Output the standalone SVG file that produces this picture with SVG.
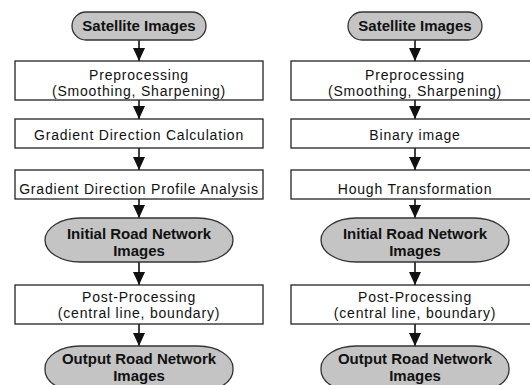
<svg xmlns="http://www.w3.org/2000/svg" width="530" height="385" viewBox="0 0 530 385">
<style>
.box{fill:#fff;stroke:#222;stroke-width:1.3}
.term{fill:#c4c4c4;stroke:#333;stroke-width:1.3}
.t{font-family:"Liberation Sans",Arial,sans-serif;font-size:14px;letter-spacing:0.8px;text-anchor:middle;fill:#111}
.b{font-family:"Liberation Sans",Arial,sans-serif;font-size:15px;font-weight:bold;text-anchor:middle;fill:#111}
.c{stroke:#111;stroke-width:1.6;fill:none;marker-end:url(#ah)}
</style>
<defs>
<marker id="ah" markerUnits="userSpaceOnUse" markerWidth="13" markerHeight="12" viewBox="0 0 13 12" refX="13" refY="6" orient="auto">
<path d="M0,0 L13,6 L0,12 Z" fill="#111"/>
</marker>
</defs>
<rect width="530" height="385" fill="#fff"/>
<g id="connectors">
<line class="c" x1="139" y1="40" x2="139" y2="61"/>
<line class="c" x1="139" y1="100" x2="139" y2="119"/>
<line class="c" x1="139" y1="148" x2="139" y2="170"/>
<line class="c" x1="139" y1="199" x2="139" y2="218"/>
<line class="c" x1="139" y1="262" x2="139" y2="285"/>
<line class="c" x1="139" y1="324" x2="139" y2="346"/>
<line class="c" x1="415" y1="40" x2="415" y2="61"/>
<line class="c" x1="415" y1="100" x2="415" y2="119"/>
<line class="c" x1="415" y1="148" x2="415" y2="170"/>
<line class="c" x1="415" y1="199" x2="415" y2="218"/>
<line class="c" x1="415" y1="262" x2="415" y2="285"/>
<line class="c" x1="415" y1="324" x2="415" y2="346"/>
</g>
<g id="L-sat">
<rect class="term" x="72" y="12" width="134" height="28" rx="14" ry="14"/>
<text class="b" x="139" y="31">Satellite Images</text>
</g>
<g id="L-pre">
<rect class="box" x="15" y="61" width="248" height="39"/>
<text class="t" x="139" y="80">Preprocessing</text>
<text class="t" x="139" y="96">(Smoothing, Sharpening)</text>
</g>
<g id="L-grad">
<rect class="box" x="15" y="119" width="248" height="29"/>
<text class="t" x="139" y="140">Gradient Direction Calculation</text>
</g>
<g id="L-prof">
<rect class="box" x="15" y="170" width="248" height="29"/>
<text class="t" x="139" y="194">Gradient Direction Profile Analysis</text>
</g>
<g id="L-init">
<rect class="term" x="45" y="218" width="188" height="44" rx="35" ry="22"/>
<text class="b" x="139" y="239">Initial Road Network</text>
<text class="b" x="139" y="256">Images</text>
</g>
<g id="L-post">
<rect class="box" x="15" y="285" width="248" height="39"/>
<text class="t" x="139" y="302">Post-Processing</text>
<text class="t" x="139" y="318">(central line, boundary)</text>
</g>
<g id="L-out">
<rect class="term" x="45" y="346" width="188" height="46" rx="35" ry="22"/>
<text class="b" x="139" y="364">Output Road Network</text>
<text class="b" x="139" y="381">Images</text>
</g>
<g id="R-sat">
<rect class="term" x="348" y="12" width="134" height="28" rx="14" ry="14"/>
<text class="b" x="415" y="31">Satellite Images</text>
</g>
<g id="R-pre">
<rect class="box" x="291" y="61" width="248" height="39"/>
<text class="t" x="415" y="80">Preprocessing</text>
<text class="t" x="415" y="96">(Smoothing, Sharpening)</text>
</g>
<g id="R-bin">
<rect class="box" x="291" y="119" width="248" height="29"/>
<text class="t" x="415" y="140">Binary image</text>
</g>
<g id="R-hough">
<rect class="box" x="291" y="170" width="248" height="29"/>
<text class="t" x="415" y="194">Hough Transformation</text>
</g>
<g id="R-init">
<rect class="term" x="321" y="218" width="188" height="44" rx="35" ry="22"/>
<text class="b" x="415" y="239">Initial Road Network</text>
<text class="b" x="415" y="256">Images</text>
</g>
<g id="R-post">
<rect class="box" x="291" y="285" width="248" height="39"/>
<text class="t" x="415" y="302">Post-Processing</text>
<text class="t" x="415" y="318">(central line, boundary)</text>
</g>
<g id="R-out">
<rect class="term" x="321" y="346" width="188" height="46" rx="35" ry="22"/>
<text class="b" x="415" y="364">Output Road Network</text>
<text class="b" x="415" y="381">Images</text>
</g>
</svg>
